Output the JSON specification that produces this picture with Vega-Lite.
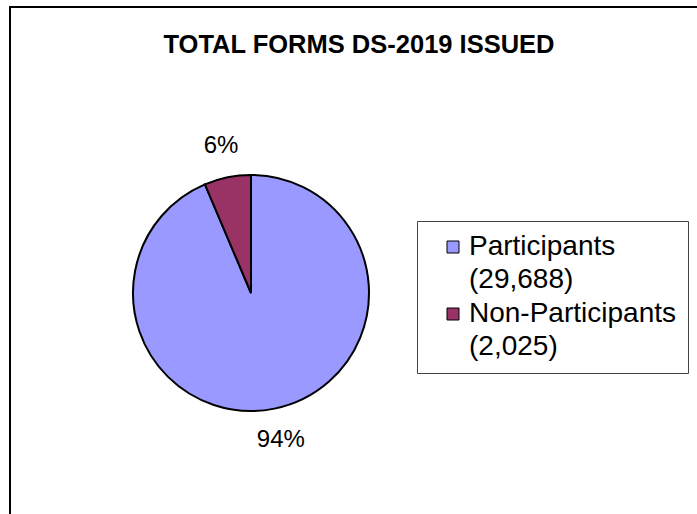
{
  "$schema": "https://vega.github.io/schema/vega-lite/v6.json",
  "width": 690,
  "height": 512,
  "autosize": {"type": "none"},
  "padding": {"left": 10, "top": 7, "right": -3, "bottom": -5},
  "background": "white",
  "view": {"stroke": "black", "strokeWidth": 2},
  "title": {
    "text": "TOTAL FORMS DS-2019 ISSUED",
    "font": "Liberation Sans",
    "fontSize": 25.5,
    "fontWeight": "bold",
    "color": "black",
    "anchor": "middle",
    "frame": "group",
    "baseline": "alphabetic",
    "offset": 0,
    "dx": 4,
    "dy": 72
  },
  "data": {
    "values": [
      {"category": "Participants (29,688)", "count": 29688, "pct": "94%"},
      {"category": "Non-Participants (2,025)", "count": 2025, "pct": "6%"}
    ]
  },
  "layer": [
    {
      "mark": {"type": "arc", "radius": 118, "stroke": "black", "strokeWidth": 2, "x": 241, "y": 286},
      "encoding": {
        "theta": {"field": "count", "type": "quantitative", "stack": true},
        "order": {"field": "count", "type": "quantitative", "sort": "descending"},
        "color": {
          "field": "category",
          "type": "nominal",
          "scale": {
            "domain": ["Participants (29,688)", "Non-Participants (2,025)"],
            "range": ["#9999FF", "#993366"]
          },
          "legend": {
            "title": null,
            "orient": "none",
            "legendX": 407,
            "legendY": 214,
            "direction": "vertical",
            "labelExpr": "split(datum.label, ' ')",
            "labelFont": "Liberation Sans",
            "labelFontSize": 28,
            "labelColor": "black",
            "labelLimit": 400,
            "labelBaseline": "middle",
            "labelOffset": 2,
            "symbolType": "square",
            "symbolSize": 144,
            "symbolOffset": 10,
            "symbolStrokeColor": "black",
            "symbolStrokeWidth": 1,
            "symbolOpacity": 1,
            "rowPadding": 6,
            "padding": 12,
            "strokeColor": "#444444",
            "fillColor": "white",
            "encoding": {
              "labels": {"lineHeight": {"value": 33}}
            }
          }
        }
      }
    },
    {
      "mark": {"type": "text", "radius": 150, "font": "Liberation Sans", "fontSize": 24, "color": "black", "x": 241, "y": 286},
      "encoding": {
        "theta": {"field": "count", "type": "quantitative", "stack": true},
        "order": {"field": "count", "type": "quantitative", "sort": "descending"},
        "text": {"field": "pct", "type": "nominal"}
      }
    },
    {
      "data": {"values": [{}]},
      "mark": {"type": "rect", "fill": null, "fillOpacity": 0, "stroke": "black", "strokeWidth": 2},
      "encoding": {}
    }
  ]
}
